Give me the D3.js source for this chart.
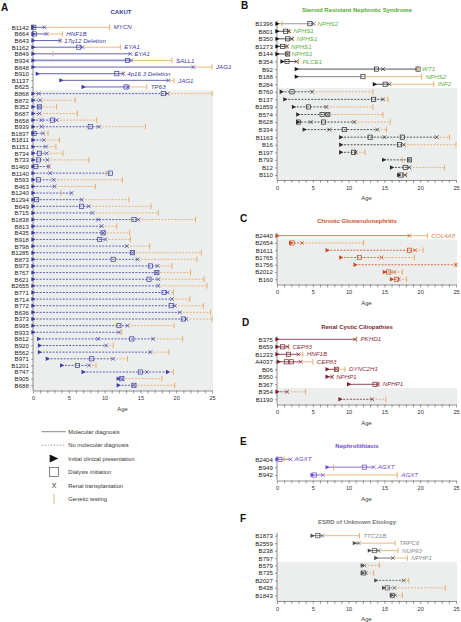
<!DOCTYPE html>
<html><head><meta charset="utf-8">
<script src="https://cdn.jsdelivr.net/npm/d3@7"></script>
<style>
body{margin:0;background:#fff;}
svg{display:block;font-family:"Liberation Sans",Arial,Helvetica,sans-serif;}
</style>
</head><body>
<svg id="chart" width="461" height="622"></svg>
<script>
// ---------- DATA (ages in years) ----------
const ageTickValues = d3.range(0, 26);
const ageLabelValues = [0, 5, 10, 15, 20, 25];

const cakutRows = [
  {id:"B1142", start:0,   dial:[0.1],  tx:[1.6],  gt:10.7, gene:"MYCN", mol:true},
  {id:"B664",  start:0,   dial:[0.2],  tx:[1.9],  gt:4.1,  gene:"HNF1B", mol:true},
  {id:"B643",  start:0,   dial:[],     tx:[3.8],  gt:3.8,  gene:"17q12 Deletion", mol:true},
  {id:"B1162", start:0,   dial:[6.4],  tx:[6.9],  gt:12.2, gene:"EYA1", mol:true},
  {id:"B849",  start:0,   dial:[],     tx:[13.6], gt:2.8,  gene:"EYA1", mol:true},
  {id:"B934",  start:0,   dial:[13.2], tx:[13.7], gt:19.4, gene:"SALL1", mol:true, hl:true},
  {id:"B848",  start:0,   dial:[],     tx:[22.4], gt:25,   gene:"JAG1", mol:true},
  {id:"B910",  start:0.6, dial:[11.7], tx:[12.6], gt:12.6, gene:"4p16.3 Deletion", mol:true},
  {id:"B1137", start:3.9, dial:[],     tx:[18.9], gt:19.7, gene:"JAG1", mol:true},
  {id:"B625",  start:7.0, dial:[13.0], tx:[13.3], gt:15.9, gene:"TP63", mol:true},
  {id:"B868",  start:0, dial:[18.2], tx:[0.8,18.8], gt:25},
  {id:"B872",  start:0, dial:[],     tx:[1.0],  gt:5.9},
  {id:"B352",  start:0, dial:[0.9],  tx:[0.9],  gt:3.3},
  {id:"B687",  start:0, dial:[],     tx:[0.9],  gt:6.2},
  {id:"B658",  start:0, dial:[2.7],  tx:[1.2,3.3], gt:8.9},
  {id:"B939",  start:0, dial:[8.0],  tx:[1.2,9.2], gt:15.7},
  {id:"B1837", start:0, dial:[0.15], tx:[1.4],  gt:2.1},
  {id:"B1811", start:0, dial:[],     tx:[1.5],  gt:3.7},
  {id:"B1151", start:0, dial:[],     tx:[1.8],  gt:3.2},
  {id:"B734",  start:0, dial:[0.9],  tx:[1.9],  gt:4.2},
  {id:"B733",  start:0, dial:[0.75], tx:[2.0],  gt:7.8},
  {id:"B1460", start:0, dial:[0.4],  tx:[2.2],  gt:2.2},
  {id:"B1140", start:0, dial:[10.8], tx:[2.4],  gt:10.2},
  {id:"B593",  start:0, dial:[0.75], tx:[2.9],  gt:12.5},
  {id:"B463",  start:0, dial:[],     tx:[3.0],  gt:8.7},
  {id:"B1240", start:0, dial:[],     tx:[5.4],  gt:3.9},
  {id:"B1294", start:0, dial:[0.5],  tx:[6.8],  gt:13.4},
  {id:"B649",  start:0, dial:[6.8],  tx:[7.8],  gt:16.5},
  {id:"B715",  start:0, dial:[],     tx:[8.3],  gt:17.5},
  {id:"B1838", start:0, dial:[14.1], tx:[9.1,14.7], gt:22.7},
  {id:"B813",  start:0, dial:[],     tx:[9.6],  gt:11.7},
  {id:"B435",  start:0, dial:[9.8],  tx:[9.8],  gt:13.5},
  {id:"B918",  start:0, dial:[9.3],  tx:[10.1], gt:13.6},
  {id:"B798",  start:0, dial:[],     tx:[13.1], gt:16.3},
  {id:"B1285", start:0, dial:[13.9], tx:[13.9], gt:23.5},
  {id:"B873",  start:0, dial:[11.2], tx:[14.6], gt:22.9},
  {id:"B973",  start:0, dial:[16.4], tx:[17.4], gt:19.4},
  {id:"B767",  start:0, dial:[17.3], tx:[17.3], gt:22.0},
  {id:"B621",  start:0, dial:[16.2], tx:[17.5], gt:23.9},
  {id:"B2655", start:0, dial:[],     tx:[17.5], gt:24.3},
  {id:"B771",  start:0, dial:[18.3], tx:[18.8], gt:19.6},
  {id:"B714",  start:0, dial:[],     tx:[19.4], gt:21.9},
  {id:"B772",  start:0, dial:[19.3], tx:[19.8], gt:23.8},
  {id:"B636",  start:0, dial:[],     tx:[20.5], gt:24.8},
  {id:"B373",  start:0, dial:[21.0], tx:[21.4], gt:25},
  {id:"B995",  start:0, dial:[12.0], tx:[13.2], gt:19.7},
  {id:"B933",  start:0, dial:[],     tx:[12.0], gt:12.4},
  {id:"B812",  start:0.8, dial:[13.8], tx:[9.1,16.8], gt:20.9},
  {id:"B920",  start:0.9, dial:[],     tx:[10.2], gt:11.2},
  {id:"B562",  start:0.9, dial:[],     tx:[16.4], gt:19.0},
  {id:"B971",  start:2.0, dial:[8.2],  tx:[11.2], gt:13.2},
  {id:"B1201", start:4.0, dial:[6.2],  tx:[7.8],  gt:8.8},
  {id:"B747",  start:7.0, dial:[15.0], tx:[15.9], gt:19.6, extra:[18.8]},
  {id:"B905",  start:11.9, dial:[12.4], tx:[12.4], gt:18.0},
  {id:"B688",  start:11.9, dial:[14.1], tx:[14.1], gt:19.8}
];

const srnsRows = [
  {id:"B1396", start:0,   dial:[4.6],  tx:[5.1],  gt:0.7,  gene:"NPHS2", mol:true, gray:true},
  {id:"B801",  start:0,   dial:[1.2],  tx:[1.7],  gt:1.7,  gene:"NPHS1", mol:true},
  {id:"B350",  start:0,   dial:[1.5],  tx:[2.1],  gt:2.2,  gene:"NPHS1", mol:true},
  {id:"B1273", start:0,   dial:[0.8],  tx:[1.4],  gt:1.4,  gene:"NPHS1", mol:true},
  {id:"B144",  start:0,   dial:[1.5],  tx:[1.5],  gt:1.5,  gene:"NPHS1", mol:true},
  {id:"B354",  start:0.7, dial:[1.4],  tx:[2.7],  gt:3.0,  gene:"PLCE1", mol:true},
  {id:"B92",   start:2.7, dial:[13.9,19.7], tx:[14.8], gt:19.7, gene:"WT1", mol:true},
  {id:"B188",  start:2.7, dial:[12.0], tx:[],     gt:20.2, gene:"NPHS2", mol:true, gray:true},
  {id:"B284",  start:13.6, dial:[15.1], tx:[15.7], gt:21.9, gene:"INF2", mol:true},
  {id:"B760",  start:0.6, dial:[2.1],  tx:[4.9],  gt:13.4},
  {id:"B137",  start:1.1, dial:[13.5], tx:[14.8], gt:15.5},
  {id:"B1859", start:2.3, dial:[4.4],  tx:[6.9],  gt:13.4},
  {id:"B574",  start:2.9, dial:[6.3,7.1], tx:[7.1], gt:14.8},
  {id:"B628",  start:2.9, dial:[3.0,6.5], tx:[4.7,10.8], gt:15.8},
  {id:"B334",  start:3.8, dial:[9.4],  tx:[7.3,14.0], gt:15.3},
  {id:"B1163", start:8.9, dial:[13.0,17.5], tx:[15.0,22.3], gt:24.1},
  {id:"B16",   start:8.9, dial:[17.1], tx:[17.7], gt:25},
  {id:"B197",  start:8.9, dial:[10.7], tx:[11.0], gt:12.3},
  {id:"B793",  start:14.9, dial:[18.5], tx:[18.5], gt:17.5},
  {id:"B12",   start:16.0, dial:[17.9], tx:[18.5], gt:23.4},
  {id:"B110",  start:17.0, dial:[17.3], tx:[17.9], gt:18.1}
];

const cgnRows = [
  {id:"B2440", start:0,    dial:[],     tx:[18.5], gt:21.0, gene:"COL4A5", mol:true},
  {id:"B2654", start:1.9,  dial:[2.1],  tx:[3.5],  gt:12.1},
  {id:"B1611", start:7.0,  dial:[18.5], tx:[19.3], gt:20.4},
  {id:"B1765", start:8.9,  dial:[11.5], tx:[14.6], gt:19.2},
  {id:"B1756", start:10.9, dial:[],     tx:[25.0], gt:25.0},
  {id:"B2012", start:15.0, dial:[15.6], tx:[16.4], gt:17.5},
  {id:"B160",  start:16.0, dial:[16.7], tx:[17.0], gt:18.1}
];

const cystRows = [
  {id:"B375",  start:0,    dial:[],        tx:[10.9], gt:11.1, gene:"PKHD1", mol:true},
  {id:"B659",  start:0,    dial:[0.8],     tx:[1.5],  gt:1.6,  gene:"CEP83", mol:true},
  {id:"B1233", start:0,    dial:[1.6],     tx:[3.0],  gt:3.6,  gene:"HNF1B", mol:true},
  {id:"A4037", start:0.2,  dial:[1.3,2.0], tx:[3.3],  gt:5.0,  gene:"CEP83", mol:true},
  {id:"B06",   start:7.0,  dial:[8.3],     tx:[8.3],  gt:9.5,  gene:"DYNC2H1", mol:true},
  {id:"B950",  start:7.0,  dial:[],        tx:[7.7],  gt:7.7,  gene:"NPHP1", mol:true},
  {id:"B367",  start:10.0, dial:[13.7],    tx:[14.1], gt:14.2, gene:"NPHP1", mol:true},
  {id:"B354",  start:0,    dial:[],        tx:[1.4],  gt:4.0},
  {id:"B1190", start:8.8,  dial:[],        tx:[13.3], gt:15.2}
];

const stoneRows = [
  {id:"B2404", start:0,   dial:[0.4],  tx:[1.9],  gt:1.0,  gene:"AGXT", mol:true},
  {id:"B949",  start:7.0, dial:[12.2], tx:[13.5], gt:7.9,  gene:"AGXT", mol:true},
  {id:"B942",  start:4.9, dial:[5.2],  tx:[6.4],  gt:16.8, gene:"AGXT", mol:true}
];

const unknownRows = [
  {id:"B1873", start:4.9,  dial:[5.7],  tx:[6.3],  gt:11.5, gene:"TTC21B", mol:true},
  {id:"B2559", start:10.8, dial:[],     tx:[11.4], gt:16.5, gene:"TRPC6", mol:true},
  {id:"B238",  start:12.9, dial:[13.6], tx:[14.2], gt:16.9, gene:"NUP93", mol:true},
  {id:"B797",  start:13.8, dial:[],     tx:[16.2], gt:18.2, gene:"NPHP1", mol:true},
  {id:"B579",  start:11.9, dial:[],     tx:[12.2], gt:14.3},
  {id:"B735",  start:11.9, dial:[12.1], tx:[12.4], gt:13.5},
  {id:"B2027", start:13.8, dial:[],     tx:[17.7], gt:18.4},
  {id:"B438",  start:14.9, dial:[15.4], tx:[16.4], gt:23.5},
  {id:"B1843", start:16.0, dial:[16.1], tx:[16.5], gt:17.5}
];

const legendItems = ["Molecular diagnosis", "No molecular diagnosis", "Initial clinical presentation",
                     "Dialysis initiation", "Renal transplantation", "Genetic testing"];

// ---------- LAYOUT / STYLE ----------
const ORANGE = "#e9a65d";
const panels = [
  {letter:"A", title:"CAKUT", rows:cakutRows, x0:33, x1:212, yFirst:27.3, yLast:385.3, axisY:390.5,
   titleX:121, titleY:11.7, letterX:1, letterY:7.3, color:"#3b3ba5", labelColor:"#3b3ba5", titleColor:"#3b3ba5"},
  {letter:"B", title:"Steroid Resistant Nephrotic Syndrome", rows:srnsRows, x0:277, x1:456, yFirst:23.7, yLast:175, axisY:180,
   titleX:357, titleY:10, letterX:241, letterY:5.7, color:"#2a2a2a", labelColor:"#5bb13a", titleColor:"#55aa35"},
  {letter:"C", title:"Chronic Glomerulonephritis", rows:cgnRows, x0:277, x1:456, yFirst:235.7, yLast:279.3, axisY:284.5,
   titleX:357, titleY:221, letterX:240, letterY:218.3, color:"#cf4a1c", labelColor:"#dc8048", titleColor:"#d0501f"},
  {letter:"D", title:"Renal Cystic Ciliopathies", rows:cystRows, x0:277, x1:456, yFirst:339.3, yLast:399.3, axisY:404.5,
   titleX:357, titleY:326.7, letterX:242, letterY:322.3, color:"#7a1f2c", labelColor:"#8c2f3d", titleColor:"#7a1f2c"},
  {letter:"E", title:"Nephrolithiasis", rows:stoneRows, x0:277, x1:456, yFirst:459.3, yLast:475, axisY:480.5,
   titleX:357, titleY:446, letterX:240, letterY:441.7, color:"#7048cf", labelColor:"#7048cf", titleColor:"#7048cf"},
  {letter:"F", title:"ESRD of Unknown Etiology", rows:unknownRows, x0:277, x1:456, yFirst:535.7, yLast:595.3, axisY:601,
   titleX:357, titleY:522, letterX:240, letterY:518.3, color:"#505050", labelColor:"#8c8c8c", titleColor:"#777777"}
];

const svg = d3.select("#chart");

function drawPanel(p) {
  const g = svg.append("g");
  const x = d3.scaleLinear().domain([0, 25]).range([p.x0, p.x1]);
  const y = d3.scalePoint().domain(p.rows.map(d => d.id)).range([p.yFirst, p.yLast]);

  // background for no molecular diagnosis
  const firstNon = p.rows.findIndex(d => !d.mol);
  if (firstNon >= 0) {
    const yTop = firstNon === 0 ? p.yFirst - 3 : (y(p.rows[firstNon - 1].id) + y(p.rows[firstNon].id)) / 2;
    g.append("rect").attr("x", p.x0).attr("y", yTop)
      .attr("width", p.x1 - p.x0 + 1).attr("height", p.axisY - yTop).attr("fill", "#eceeee");
  }

  // x axis
  const xa = g.append("g").attr("transform", `translate(0,${p.axisY})`)
    .call(d3.axisBottom(x).tickValues(ageTickValues).tickSize(3).tickSizeOuter(0).tickPadding(3)
      .tickFormat(d => ageLabelValues.includes(d) ? d : ""));
  xa.select(".domain").attr("stroke", "#444").attr("stroke-width", 0.6);
  xa.selectAll(".tick line").attr("stroke", "#444").attr("stroke-width", 0.5);
  xa.selectAll(".tick text").attr("font-size", 5.6).attr("fill", "#333").attr("font-family", null);
  g.append("text").attr("x", (p.x0 + p.x1) / 2).attr("y", p.axisY + 20)
    .attr("text-anchor", "middle").attr("font-size", 5.8).attr("fill", "#333").text("Age");

  // y axis
  const ya = g.append("g").attr("transform", `translate(${p.x0},0)`)
    .call(d3.axisLeft(y).tickSize(2).tickSizeOuter(0).tickPadding(2.2));
  ya.select(".domain").remove();
  ya.selectAll(".tick line").attr("stroke", "#444").attr("stroke-width", 0.5);
  ya.selectAll(".tick text").attr("font-size", 6.1).attr("fill", "#222").attr("font-family", null);
  g.append("line").attr("x1", p.x0).attr("x2", p.x0).attr("y1", p.yFirst - 3).attr("y2", p.axisY)
    .attr("stroke", "#444").attr("stroke-width", 0.6);

  // title & letter
  g.append("text").attr("x", p.titleX).attr("y", p.titleY).attr("dy", "0.35em")
    .attr("text-anchor", "middle").attr("font-weight", "bold").attr("font-size", 6)
    .attr("fill", p.titleColor).text(p.title);
  g.append("text").attr("x", p.letterX).attr("y", p.letterY).attr("dy", "0.36em")
    .attr("font-weight", "bold").attr("font-size", 10).attr("fill", "#111").text(p.letter);

  // rows
  p.rows.forEach(r => {
    const yy = y(r.id);
    const extra = r.extra || [];
    const clinEnd = d3.max([r.start, ...r.dial, ...r.tx, ...extra]);
    const dash = r.mol ? null : "2,1.3";
    const lineColor = r.gray ? "#9a9a9a" : (r.hl ? "#8d8dd2" : p.color);
    g.append("line").attr("x1", x(r.start)).attr("x2", x(clinEnd)).attr("y1", yy).attr("y2", yy)
      .attr("stroke", lineColor).attr("stroke-width", r.hl ? 1.8 : (r.gray ? 1.1 : 0.8))
      .attr("stroke-dasharray", dash);
    if (r.gt > clinEnd) {
      g.append("line").attr("x1", x(clinEnd)).attr("x2", x(r.gt)).attr("y1", yy).attr("y2", yy)
        .attr("stroke", ORANGE).attr("stroke-width", 0.8).attr("stroke-dasharray", dash);
    }
    // genetic testing tick
    g.append("line").attr("x1", x(r.gt)).attr("x2", x(r.gt)).attr("y1", yy - 2.8).attr("y2", yy + 2.8)
      .attr("stroke", ORANGE).attr("stroke-width", 0.9);
    // dialysis squares
    r.dial.forEach(a => {
      g.append("rect").attr("x", x(a) - 2.1).attr("y", yy - 2.1).attr("width", 4.2).attr("height", 4.2)
        .attr("fill", "none").attr("stroke", p.color).attr("stroke-width", 0.7);
    });
    // transplants
    r.tx.forEach(a => {
      const cx = x(a), s = 1.9;
      g.append("path").attr("d", `M${cx - s},${yy - s}L${cx + s},${yy + s}M${cx - s},${yy + s}L${cx + s},${yy - s}`)
        .attr("stroke", p.color).attr("stroke-width", 0.7).attr("fill", "none");
    });
    // presentation triangles
    [r.start, ...extra].forEach(a => {
      const cx = x(a);
      g.append("path").attr("d", `M${cx - 1.6},${yy - 2.2}L${cx + 2.6},${yy}L${cx - 1.6},${yy + 2.2}Z`)
        .attr("fill", r.mol && p.letter === "B" ? "#111" : p.color);
    });
    // gene label
    if (r.gene) {
      const mx = d3.max([r.start, ...r.dial, ...r.tx, ...extra, r.gt]);
      g.append("text").attr("x", x(mx) + 4).attr("y", yy).attr("dy", "0.35em")
        .attr("font-size", 6.2).attr("font-style", "italic").attr("fill", p.labelColor).text(r.gene);
    }
  });
}

panels.forEach(drawPanel);

// ---------- LEGEND ----------
const lg = svg.append("g");
const legY = d3.scalePoint().domain(legendItems).range([431.7, 499]);
const textX = 68.3, symX = 54;
legendItems.forEach((t, i) => {
  lg.append("text").attr("x", textX).attr("y", legY(t)).attr("dy", "0.35em")
    .attr("font-size", 5.8).attr("fill", "#333").text(t);
});
lg.append("line").attr("x1", 41.7).attr("x2", 65.7).attr("y1", legY(legendItems[0])).attr("y2", legY(legendItems[0]))
  .attr("stroke", "#555").attr("stroke-width", 0.7);
lg.append("line").attr("x1", 41.7).attr("x2", 65.7).attr("y1", legY(legendItems[1])).attr("y2", legY(legendItems[1]))
  .attr("stroke", "#777").attr("stroke-width", 0.7).attr("stroke-dasharray", "1.5,1.5");
{
  const yy = legY(legendItems[2]);
  lg.append("path").attr("d", `M${symX - 4.3},${yy - 4}L${symX + 4.3},${yy}L${symX - 4.3},${yy + 4}Z`).attr("fill", "#111");
}
{
  const yy = legY(legendItems[3]);
  lg.append("rect").attr("x", symX - 4.6).attr("y", yy - 4.6).attr("width", 9.2).attr("height", 9.2)
    .attr("fill", "none").attr("stroke", "#333").attr("stroke-width", 0.6);
}
lg.append("text").attr("x", symX).attr("y", legY(legendItems[4])).attr("dy", "0.36em")
  .attr("text-anchor", "middle").attr("font-size", 7).attr("fill", "#333").text("X");
{
  const yy = legY(legendItems[5]);
  lg.append("line").attr("x1", symX).attr("x2", symX).attr("y1", yy - 5).attr("y2", yy + 5)
    .attr("stroke", "#ead2b6").attr("stroke-width", 1.6);
}
</script>
</body></html>
